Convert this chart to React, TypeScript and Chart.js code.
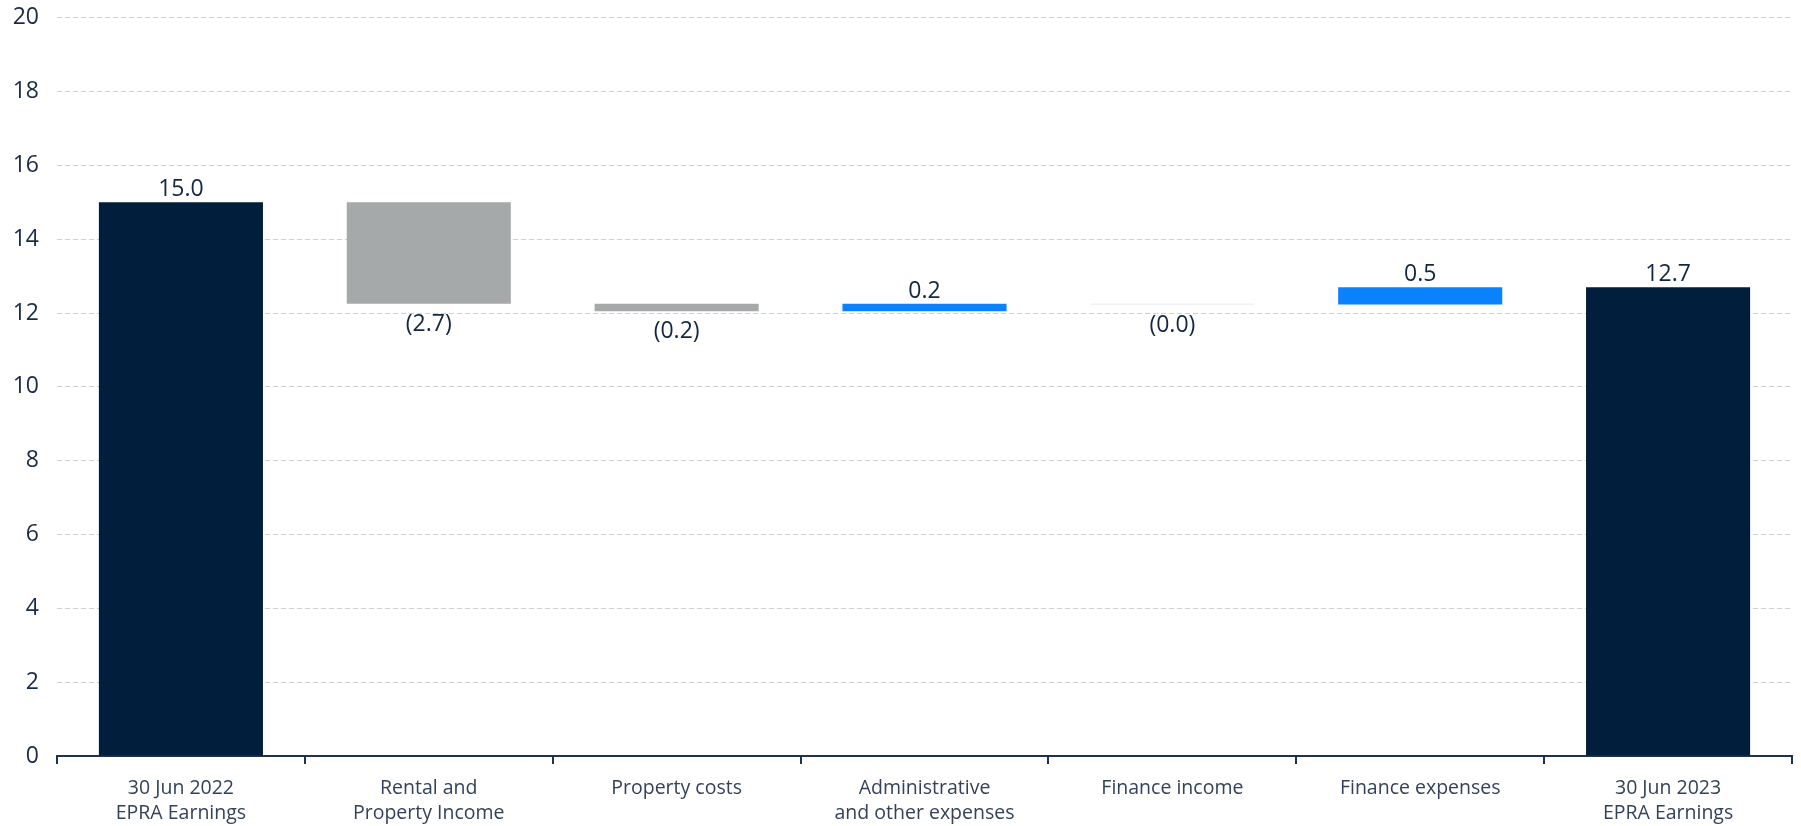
import React, { useEffect, useRef } from "react";
import { Chart, registerables } from "chart.js";

Chart.register(...registerables);

const categories: string[][] = [
  ["30 Jun 2022", "EPRA Earnings"],
  ["Rental and", "Property Income"],
  ["Property costs"],
  ["Administrative", "and other expenses"],
  ["Finance income"],
  ["Finance expenses"],
  ["30 Jun 2023", "EPRA Earnings"],
];
const startValue = 15.0;
const changes = [-2.75, -0.2, 0.2, -0.02, 0.47];
const endValue = 12.7;
const valueLabels = ["15.0", "(2.7)", "(0.2)", "0.2", "(0.0)", "0.5", "12.7"];
const barColors = ["#011E3C", "#A6A9A9", "#A6A9A9", "#0A82FF", "#E1E4E7", "#0A82FF", "#011E3C"];
const yTicks = [0, 2, 4, 6, 8, 10, 12, 14, 16, 18, 20];

const FONT = "'Open Sans', 'Noto Sans', sans-serif";

export default function App() {
  const ref = useRef<HTMLCanvasElement>(null);
  useEffect(() => {
    const ranges: [number, number][] = [[0, startValue]];
    let cur = startValue;
    for (const d of changes) {
      ranges.push([cur, cur + d]);
      cur += d;
    }
    ranges.push([0, endValue]);
    const isNeg = [false, ...changes.map((d) => d < 0), false];

    const labelPlugin = {
      id: "valueLabels",
      afterDatasetsDraw(chart: any) {
        const ctx = chart.ctx;
        const meta = chart.getDatasetMeta(0);
        ctx.save();
        ctx.font = `23px ${FONT}`;
        ctx.fillStyle = "#142640";
        ctx.textAlign = "center";
        meta.data.forEach((el: any, i: number) => {
          const top = Math.min(el.y, el.base);
          const bot = Math.max(el.y, el.base);
          if (isNeg[i]) {
            ctx.textBaseline = "top";
            ctx.fillText(valueLabels[i], el.x, bot + 9);
          } else {
            ctx.textBaseline = "bottom";
            ctx.fillText(valueLabels[i], el.x, top - 1);
          }
        });
        ctx.restore();
      },
    };

    const chart = new Chart(ref.current!, {
      type: "bar",
      data: {
        labels: categories,
        datasets: [
          {
            data: ranges as any,
            backgroundColor: barColors,
            borderWidth: 0,
            categoryPercentage: 1,
            barPercentage: 0.662,
          },
        ],
      },
      options: {
        animation: false,
        responsive: true,
        maintainAspectRatio: false,
        layout: { padding: { left: 0, right: 9, top: 1, bottom: 0 } },
        plugins: {
          legend: { display: false },
          tooltip: { enabled: false },
        },
        scales: {
          x: {
            offset: true,
            grid: {
              display: true,
              offset: true,
              drawOnChartArea: false,
              drawTicks: true,
              tickLength: 8,
              color: "#1F3350",
              lineWidth: 2,
            },
            border: { display: true, color: "#1F3350", width: 2 },
            ticks: {
              color: "#33425A",
              font: { family: FONT, size: 19.5, lineHeight: 1.28 },
              padding: 12,
              maxRotation: 0,
              autoSkip: false,
            },
            afterFit(scale: any) {
              scale.height = 70;
            },
          },
          y: {
            min: 0,
            max: 20,
            afterBuildTicks(scale: any) {
              scale.ticks = yTicks.map((v) => ({ value: v }));
            },
            grid: {
              color: "#CDD0D3",
              lineWidth: 1,
              drawTicks: false,
            },
            border: { display: false, dash: [5, 3] },
            ticks: {
              color: "#1A2B47",
              font: { family: FONT, size: 23 },
              padding: 18,
            },
            afterFit(scale: any) {
              scale.width = 57;
            },
          },
        },
      },
      plugins: [labelPlugin],
    });
    return () => chart.destroy();
  }, []);

  return (
    <div style={{ position: "fixed", left: 0, top: -14, width: 1801, height: 840, background: "#fff" }}>
      <canvas ref={ref} />
    </div>
  );
}
